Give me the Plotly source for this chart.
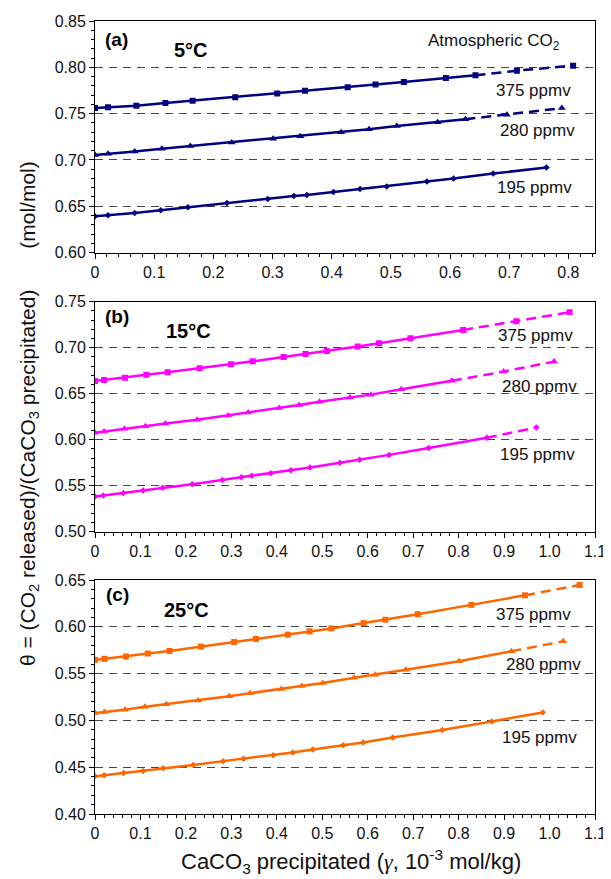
import plotly.graph_objects as go

# ---------------- data ----------------
# Panel (a) 5°C
xa_375 = [0, 0.022, 0.070, 0.119, 0.165, 0.237, 0.308, 0.355, 0.427, 0.474, 0.522, 0.593, 0.643, 0.713, 0.808]
ya_375 = [0.756, 0.7568, 0.7585, 0.7614, 0.7639, 0.7678, 0.7718, 0.7746, 0.7785, 0.7814, 0.7842, 0.7885, 0.7914, 0.7964, 0.8018]
xa_280 = [0, 0.022, 0.067, 0.113, 0.161, 0.231, 0.301, 0.347, 0.416, 0.463, 0.510, 0.579, 0.626, 0.696, 0.789]
ya_280 = [0.7053, 0.7068, 0.7092, 0.7121, 0.715, 0.7189, 0.7228, 0.7257, 0.730, 0.7332, 0.7367, 0.7407, 0.7439, 0.7489, 0.756]
xa_195 = [0, 0.022, 0.067, 0.111, 0.157, 0.223, 0.292, 0.336, 0.358, 0.403, 0.448, 0.493, 0.561, 0.606, 0.673, 0.763]
ya_195 = [0.6393, 0.6403, 0.6428, 0.6457, 0.6489, 0.6535, 0.6578, 0.661, 0.6621, 0.6653, 0.6685, 0.6714, 0.6768, 0.68, 0.6853, 0.6918]
solid_a = [13, 13, 16]   # number of points in the solid (computed) part

# Panel (b) 15°C
xb_375 = [0, 0.020, 0.066, 0.113, 0.160, 0.230, 0.299, 0.347, 0.415, 0.463, 0.510, 0.578, 0.625, 0.694, 0.810, 0.927, 1.044]
yb_375 = [0.6637, 0.6648, 0.6673, 0.6705, 0.6734, 0.6777, 0.682, 0.6852, 0.6899, 0.6931, 0.6963, 0.7013, 0.7049, 0.7102, 0.7193, 0.7289, 0.7386]
xb_280 = [0, 0.020, 0.065, 0.111, 0.155, 0.225, 0.293, 0.337, 0.405, 0.449, 0.494, 0.561, 0.607, 0.674, 0.785, 0.899, 1.010]
yb_280 = [0.6075, 0.6089, 0.6118, 0.6146, 0.6175, 0.6218, 0.6264, 0.6297, 0.6344, 0.6376, 0.6412, 0.6458, 0.649, 0.6548, 0.664, 0.6741, 0.6849]
xb_195 = [0, 0.018, 0.0625, 0.106, 0.149, 0.214, 0.280, 0.322, 0.345, 0.387, 0.431, 0.473, 0.539, 0.582, 0.647, 0.734, 0.862, 0.971]
yb_195 = [0.5383, 0.5394, 0.542, 0.5448, 0.5477, 0.5516, 0.5563, 0.5592, 0.5609, 0.5635, 0.5667, 0.5699, 0.5749, 0.5781, 0.5835, 0.591, 0.6021, 0.6132]
solid_b = [15, 15, 17]

# Panel (c) 25°C
xc_375 = [0, 0.021, 0.068, 0.116, 0.164, 0.233, 0.306, 0.354, 0.424, 0.472, 0.520, 0.591, 0.639, 0.710, 0.828, 0.946, 1.066]
yc_375 = [0.5647, 0.5658, 0.5683, 0.5715, 0.5743, 0.5789, 0.5838, 0.587, 0.5917, 0.5952, 0.5983, 0.604, 0.6076, 0.6135, 0.6235, 0.6337, 0.6447]
xc_280 = [0, 0.021, 0.066, 0.110, 0.157, 0.227, 0.295, 0.341, 0.410, 0.455, 0.501, 0.570, 0.617, 0.684, 0.801, 0.916, 1.030]
yc_280 = [0.5079, 0.5089, 0.5114, 0.5145, 0.5174, 0.5212, 0.5259, 0.5291, 0.5336, 0.5368, 0.540, 0.5456, 0.5488, 0.5541, 0.5633, 0.5739, 0.5845]
xc_195 = [0, 0.020, 0.063, 0.106, 0.150, 0.216, 0.282, 0.327, 0.392, 0.435, 0.479, 0.546, 0.590, 0.655, 0.764, 0.873, 0.985]
yc_195 = [0.4403, 0.4414, 0.4438, 0.4459, 0.4488, 0.4523, 0.4565, 0.4591, 0.4629, 0.4658, 0.469, 0.4735, 0.4764, 0.4817, 0.4898, 0.4989, 0.5085]
solid_c = [16, 16, 17]

co2_labels = ["375 ppmv", "280 ppmv", "195 ppmv"]
panel_labels = ["(a)", "(b)", "(c)"]
temp_labels = ["5°C", "15°C", "25°C"]

xtick_vals_a = [0, 0.1, 0.2, 0.3, 0.4, 0.5, 0.6, 0.7, 0.8]
xtick_text_a = ["0", "0.1", "0.2", "0.3", "0.4", "0.5", "0.6", "0.7", "0.8"]
xtick_vals_bc = [0, 0.1, 0.2, 0.3, 0.4, 0.5, 0.6, 0.7, 0.8, 0.9, 1.0, 1.1]
xtick_text_bc = ["0", "0.1", "0.2", "0.3", "0.4", "0.5", "0.6", "0.7", "0.8", "0.9", "1.0", "1.1"]

# ---------------- styling ----------------
FONT = "Liberation Sans, Arial, sans-serif"
colors = ["#000080", "#FF00FF", "#FF6600"]
symbols = ["square", "triangle-up", "diamond"]
msizes = [6, 7, 5]

panels = [
    dict(series=[(xa_375, ya_375), (xa_280, ya_280), (xa_195, ya_195)], solid=solid_a,
         xr=[0, 0.845], yr=[0.60, 0.85], xt=(xtick_vals_a, xtick_text_a), dom=[0.708, 1.0]),
    dict(series=[(xb_375, yb_375), (xb_280, yb_280), (xb_195, yb_195)], solid=solid_b,
         xr=[0, 1.1], yr=[0.50, 0.75], xt=(xtick_vals_bc, xtick_text_bc), dom=[0.356, 0.646]),
    dict(series=[(xc_375, yc_375), (xc_280, yc_280), (xc_195, yc_195)], solid=solid_c,
         xr=[0, 1.1], yr=[0.40, 0.65], xt=(xtick_vals_bc, xtick_text_bc), dom=[0.0, 0.295]),
]

# label positions (data coords of each panel)
co2_pos = [
    [(0.741, 0.7753), (0.748, 0.7313), (0.743, 0.670)],
    [(0.969, 0.7131), (0.978, 0.6583), (0.974, 0.5842)],
    [(0.965, 0.6132), (0.987, 0.5602), (0.978, 0.4817)],
]
panel_pos = [(0.037, 0.830), (0.048, 0.7335), (0.049, 0.6344)]
temp_pos = [(0.163, 0.819), (0.206, 0.7185), (0.202, 0.6185)]

fig = go.Figure()
annotations = []
layout = {}

for p, pan in enumerate(panels):
    col = colors[p]
    sfx = "" if p == 0 else str(p + 1)
    xref, yref = "x" + sfx, "y" + sfx
    for s, (xs, ys) in enumerate(pan["series"]):
        n = pan["solid"][s]
        fig.add_trace(go.Scatter(
            x=xs[:n], y=ys[:n], mode="lines+markers", xaxis=xref, yaxis=yref,
            line=dict(color=col, width=2.5),
            marker=dict(symbol=symbols[s], size=msizes[s], color=col),
            showlegend=False, hoverinfo="x+y"))
        if n < len(xs):
            fig.add_trace(go.Scatter(
                x=xs[n - 1:], y=ys[n - 1:], mode="lines+markers", xaxis=xref, yaxis=yref,
                line=dict(color=col, width=2.5, dash="10px,6px"),
                marker=dict(symbol=symbols[s], size=msizes[s], color=col,
                            opacity=[0] + [1] * (len(xs) - n)),
                showlegend=False, hoverinfo="x+y"))
        tx, ty = co2_pos[p][s]
        annotations.append(dict(x=tx, y=ty, xref=xref, yref=yref, text=co2_labels[s],
                                showarrow=False, font=dict(size=17, color="#111", family=FONT)))
    annotations.append(dict(x=panel_pos[p][0], y=panel_pos[p][1], xref=xref, yref=yref,
                            text="<b>" + panel_labels[p] + "</b>", showarrow=False,
                            font=dict(size=19, color="#000", family=FONT)))
    annotations.append(dict(x=temp_pos[p][0], y=temp_pos[p][1], xref=xref, yref=yref,
                            text="<b>" + temp_labels[p] + "</b>", showarrow=False,
                            font=dict(size=20, color="#000", family=FONT)))

    layout["xaxis" + sfx] = dict(
        domain=[0, 1], range=pan["xr"], anchor=yref,
        tickmode="array", tickvals=pan["xt"][0], ticktext=pan["xt"][1],
        ticks="outside", ticklen=5, tickcolor="#000", tickwidth=1,
        minor=dict(dtick=0.02, ticks="outside", ticklen=3, tickcolor="#000", showgrid=False),
        showgrid=False, zeroline=False, showline=True, linecolor="#000", linewidth=1, mirror=True,
        tickfont=dict(size=16, color="#111", family=FONT))
    layout["yaxis" + sfx] = dict(
        domain=pan["dom"], range=pan["yr"], anchor=xref,
        dtick=0.05, tickformat=".2f",
        ticks="outside", ticklen=5, tickcolor="#000", tickwidth=1,
        minor=dict(dtick=0.01, ticks="outside", ticklen=3, tickcolor="#000", showgrid=False),
        showgrid=True, gridcolor="#444", gridwidth=1, griddash="8px,6px",
        zeroline=False, showline=True, linecolor="#000", linewidth=1, mirror=True,
        tickfont=dict(size=16, color="#111", family=FONT))

annotations.append(dict(x=0.674, y=0.8278, xref="x", yref="y",
                        text="Atmospheric CO<sub>2</sub>", showarrow=False,
                        font=dict(size=17, color="#111", family=FONT)))

sp = "\u00a0" * 7
annotations.append(dict(
    x=-0.133, y=0.505, xref="paper", yref="paper", xanchor="center", yanchor="middle",
    textangle=-90, showarrow=False,
    text="θ = (CO<sub>2</sub> released)/(CaCO<sub>3</sub> precipitated)" + sp + "(mol/mol)",
    font=dict(size=21, color="#111", family=FONT)))
annotations.append(dict(
    x=0.511, y=-0.06, xref="paper", yref="paper", xanchor="center", yanchor="middle",
    showarrow=False,
    text="CaCO<sub>3</sub> precipitated (<span style=\"font-family:'Liberation Serif'\"><i>γ</i></span>, 10<sup>-3</sup> mol/kg)",
    font=dict(size=22, color="#111", family=FONT)))

# the page body keeps an 8px margin, so the figure is 8px smaller and margins shifted
fig.update_layout(
    width=603, height=871,
    margin=dict(l=87, r=13, t=5, b=65),
    paper_bgcolor="white", plot_bgcolor="white",
    annotations=annotations, showlegend=False,
    font=dict(family=FONT),
    **layout)

fig.write_html("out.html")
